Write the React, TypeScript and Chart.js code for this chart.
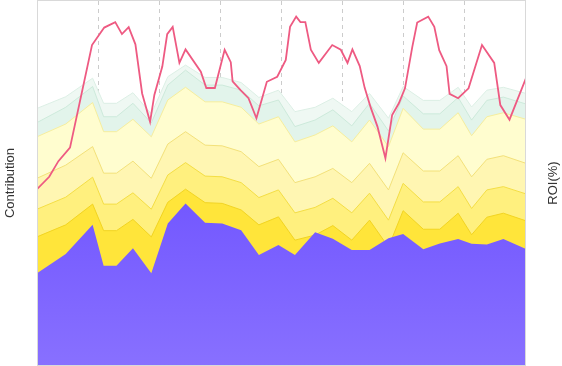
import React, { useEffect, useRef } from 'react';
import { Chart, registerables } from 'chart.js';

Chart.register(...registerables);

// x positions (time index) of the contribution samples
const areaX = [0, 4.7, 9.1, 10.9, 13.0, 15.7, 18.7, 21.4, 24.3, 27.5, 30.3, 33.4, 36.3, 39.5, 42.2, 45.5, 48.4, 51.5, 54.4, 57.5, 59.9, 63.2, 65.9, 68.9, 71.1, 73.6, 76.3, 80];

// cumulative contribution levels (top edge of each layer)
const baseLevel = [25.2, 30.5, 38.5, 27.3, 27.3, 32.1, 25.2, 38.9, 44.4, 39.1, 38.9, 37.0, 30.2, 33.0, 30.2, 36.5, 34.7, 31.6, 31.6, 34.8, 36.0, 31.8, 33.4, 34.6, 33.3, 33.1, 34.6, 31.9];
const channel1 = [35.2, 38.5, 44.2, 36.9, 36.9, 40.0, 35.2, 44.7, 48.3, 44.6, 44.4, 42.6, 38.5, 40.7, 34.3, 35.7, 38.3, 34.3, 39.8, 32.4, 42.4, 37.3, 37.3, 41.7, 35.8, 40.6, 41.7, 39.6];
const channel2 = [42.8, 46.1, 51.6, 44.2, 44.2, 47.3, 42.8, 52.2, 55.6, 51.9, 51.7, 50.1, 46.0, 48.1, 41.8, 43.3, 45.8, 41.8, 47.2, 39.8, 49.9, 44.8, 44.8, 49.0, 43.0, 48.1, 49.0, 47.0];
const channel3 = [51.3, 54.9, 60.0, 52.7, 52.7, 56.0, 51.3, 60.7, 64.1, 60.4, 60.2, 58.6, 54.5, 56.5, 50.1, 51.7, 54.0, 50.1, 55.4, 48.1, 58.3, 53.3, 53.3, 57.5, 51.7, 56.5, 57.5, 55.4];
const channel4 = [62.7, 66.2, 72.1, 64.1, 64.1, 67.5, 62.7, 72.8, 76.3, 72.3, 72.3, 70.8, 66.2, 68.2, 61.3, 63.2, 65.7, 61.3, 67.3, 60.0, 70.5, 64.8, 64.8, 69.3, 63.0, 68.2, 69.3, 67.5];
const channel5 = [66.6, 70.8, 76.5, 68.2, 68.2, 71.9, 66.5, 76.9, 81.0, 76.9, 76.9, 75.5, 71.2, 72.8, 65.5, 67.3, 70.1, 65.7, 71.9, 64.3, 73.9, 69.0, 69.0, 73.5, 67.3, 72.7, 73.6, 71.7];
const channel6 = [70.5, 73.7, 78.8, 71.9, 71.9, 74.8, 69.0, 79.2, 82.4, 79.0, 79.0, 77.6, 73.5, 75.5, 69.6, 70.8, 73.3, 69.6, 74.6, 67.8, 76.5, 72.7, 72.7, 76.3, 70.9, 75.5, 76.3, 74.6];

// ROI series
const roiX = [0, 2.0, 3.5, 5.4, 9.0, 11.0, 12.8, 13.9, 15.0, 16.1, 17.2, 18.5, 19.2, 20.5, 21.3, 22.2, 23.3, 24.3, 26.8, 27.7, 29.1, 30.7, 31.7, 32.0, 33.3, 34.6, 35.9, 37.6, 39.3, 40.7, 41.4, 42.4, 43.1, 43.9, 44.8, 46.1, 48.3, 49.7, 50.8, 51.6, 52.8, 53.6, 54.6, 55.7, 57.0, 58.1, 59.2, 60.2, 61.4, 62.2, 64.0, 65.0, 65.8, 67.0, 67.5, 68.9, 70.6, 72.8, 74.8, 75.8, 77.3, 80.0];
const roiValues = [48.3, 51.7, 56.0, 59.7, 87.9, 92.7, 94.2, 90.9, 92.8, 88.1, 74.6, 66.8, 74.2, 82.0, 90.9, 92.9, 83.0, 86.7, 80.6, 76.1, 76.1, 86.6, 83.2, 77.9, 75.5, 73.3, 67.8, 77.8, 79.2, 83.8, 92.9, 95.7, 94.2, 94.2, 86.6, 83.0, 87.9, 86.6, 83.0, 86.7, 82.1, 76.2, 70.7, 65.5, 56.8, 68.7, 71.9, 76.0, 87.4, 94.1, 95.7, 92.9, 86.5, 82.1, 74.5, 73.3, 76.0, 87.9, 83.0, 71.4, 67.4, 78.8];

const gridTicks = [10, 20, 30, 40, 50, 60, 70];

const pts = (xs: number[], ys: number[]) => xs.map((x, i) => ({ x, y: ys[i] }));

export default function App() {
  const ref = useRef<HTMLCanvasElement | null>(null);

  useEffect(() => {
    if (!ref.current) return;
    const purpleFill = (context: any) => {
      const { chart } = context;
      const { ctx, chartArea } = chart;
      if (!chartArea) return '#7659ff';
      const g = ctx.createLinearGradient(0, chartArea.top, 0, chartArea.bottom);
      g.addColorStop(0, '#6f52ff');
      g.addColorStop(0.55, '#7358ff');
      g.addColorStop(1, '#8870ff');
      return g;
    };
    const layer = (label: string, data: number[], bg: any, border: any) => ({
      type: 'line' as const,
      label,
      data: pts(areaX, data),
      backgroundColor: bg,
      borderColor: border,
      borderWidth: 1,
      fill: 'origin',
      pointRadius: 0,
      tension: 0,
      yAxisID: 'y',
    });

    const framePlugin = {
      id: 'frameAndTitle',
      afterDatasetsDraw(chart: any) {
        const { ctx, chartArea } = chart;
        ctx.save();
        ctx.strokeStyle = '#d9d9d9';
        ctx.lineWidth = 1;
        ctx.strokeRect(chartArea.left + 0.5, chartArea.top - 0.5, chartArea.right - chartArea.left - 1, chartArea.bottom - chartArea.top + 1);
        ctx.restore();
      },
      afterDraw(chart: any) {
        const { ctx, chartArea } = chart;
        ctx.save();
        ctx.fillStyle = '#333333';
        ctx.font = '13px "Liberation Sans", Arial, sans-serif';
        ctx.textAlign = 'center';
        ctx.textBaseline = 'middle';
        ctx.translate(553, (chartArea.top + chartArea.bottom) / 2);
        ctx.rotate(-Math.PI / 2);
        ctx.fillText('ROI(%)', 0, 0);
        ctx.restore();
      },
    };

    const chart = new Chart(ref.current, {
      type: 'line',
      data: {
        datasets: [
          {
            type: 'line',
            label: 'ROI(%)',
            data: pts(roiX, roiValues),
            borderColor: '#ee5a82',
            backgroundColor: '#ee5a82',
            borderWidth: 1.8,
            fill: false,
            pointRadius: 0,
            tension: 0,
            yAxisID: 'y1',
          },
          layer('Base', baseLevel, purpleFill, 'rgba(0,0,0,0)'),
          layer('Channel 1', channel1, '#ffe53a', '#f2d421'),
          layer('Channel 2', channel2, '#fff07e', '#f4de45'),
          layer('Channel 3', channel3, '#fff6b2', '#f3e17a'),
          layer('Channel 4', channel4, '#fffdcf', '#f6ee9e'),
          layer('Channel 5', channel5, '#e2f4eb', '#cdeadb'),
          layer('Channel 6', channel6, '#eff8f3', '#dcefe5'),
        ] as any,
      },
      options: {
        animation: false,
        responsive: true,
        maintainAspectRatio: false,
        layout: { padding: { top: 1, bottom: 1, left: 0, right: 0 } },
        plugins: { legend: { display: false }, tooltip: { enabled: false } },
        scales: {
          x: {
            type: 'linear',
            min: 0,
            max: 80,
            ticks: { display: false, stepSize: 10 },
            afterBuildTicks: (axis: any) => {
              axis.ticks = gridTicks.map((v) => ({ value: v }));
            },
            grid: { color: '#cccccc', drawTicks: false, tickLength: 0, lineWidth: 1 },
            border: { display: false, dash: [4, 4] },
            afterFit: (axis: any) => {
              axis.height = 0;
            },
          },
          y: {
            position: 'left',
            min: 0,
            max: 100,
            ticks: { display: false },
            grid: { display: false, drawTicks: false },
            border: { display: false },
            title: {
              display: true,
              text: 'Contribution',
              color: '#333333',
              font: { size: 13, family: '"Liberation Sans", Arial, sans-serif' },
              padding: { top: 3, bottom: 0 },
            },
            afterFit: (axis: any) => {
              axis.width = 37;
            },
          },
          y1: {
            position: 'right',
            min: 0,
            max: 100,
            ticks: { display: false },
            grid: { display: false, drawTicks: false },
            border: { display: false },
            afterFit: (axis: any) => {
              axis.width = 36;
            },
          },
        },
      } as any,
      plugins: [framePlugin],
    });
    return () => chart.destroy();
  }, []);

  return (
    <div style={{ position: 'fixed', left: 0, top: 0, width: 562, height: 366 }}>
      <canvas ref={ref} />
    </div>
  );
}
